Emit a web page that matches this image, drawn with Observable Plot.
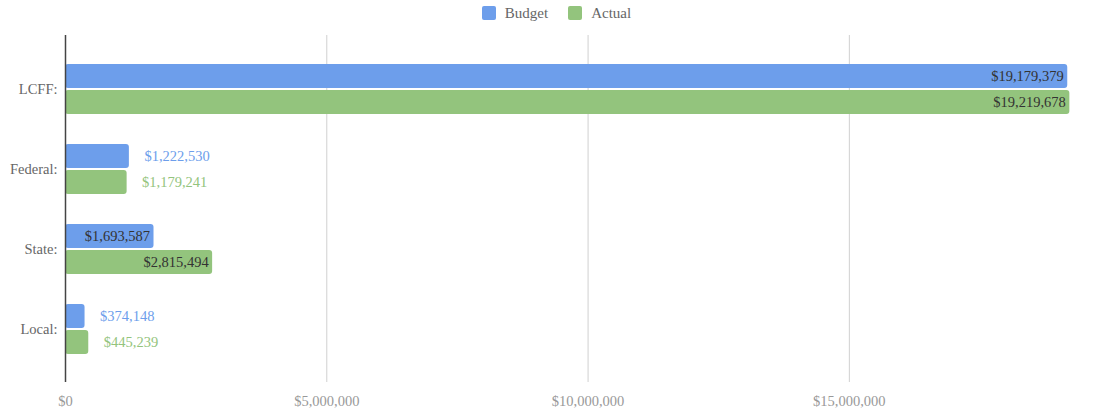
<!DOCTYPE html>
<html>
<head>
<meta charset="utf-8">
<script src="https://cdn.jsdelivr.net/npm/d3@7"></script>
<script src="https://cdn.jsdelivr.net/npm/@observablehq/plot@0.6"></script>
<style>
  html, body { margin: 0; padding: 0; background: #fff; }
  #legend { height: 26px; display: flex; justify-content: center; align-items: center;
    font-family: "Liberation Serif", "DejaVu Serif", serif; font-size: 15px; color: #666; padding-left: 14px; box-sizing: border-box; }
  #legend span.sw { display: inline-block; width: 14px; height: 14px; border-radius: 2px; margin-right: 9px; }
  #legend .item { display: flex; align-items: center; margin: 0 10px; }
  g[aria-label="x-axis"] text, g[aria-label="x-axis tick label"] text { fill: #999; }
</style>
</head>
<body>
<div id="legend"></div>
<div id="chart"></div>
<script>
const categories = ["LCFF:", "Federal:", "State:", "Local:"];
const series = ["Budget", "Actual"];
const budget = [19179379, 1222530, 1693587, 374148];
const actual = [19219678, 1179241, 2815494, 445239];
const xTicks = [0, 5000000, 10000000, 15000000];
const colors = ["#6d9eeb", "#93c47d"];

const fmt = d3.format("$,");
const data = categories.flatMap((c, i) => [
  {category: c, series: "Budget", value: budget[i]},
  {category: c, series: "Actual", value: actual[i]}
]);
const colorOf = s => colors[series.indexOf(s)];
const inside = d => d.value > 1500000;
const B = data.filter(d => d.series === "Budget");
const A = data.filter(d => d.series === "Actual");

// legend
const legend = document.getElementById("legend");
series.forEach((s, i) => {
  const it = document.createElement("div");
  it.className = "item";
  it.innerHTML = `<span class="sw" style="background:${colors[i]}"></span><span>${s}</span>`;
  legend.appendChild(it);
});

const chart = Plot.plot({
  width: 1099,
  height: 383,
  marginLeft: 65,
  marginRight: 15,
  marginTop: 9,
  marginBottom: 27,
  style: {fontFamily: "Liberation Serif, DejaVu Serif, serif", fontSize: "14.5px", color: "#666", background: "#fff"},
  x: {domain: [0, 19500000], ticks: xTicks, tickFormat: fmt, tickSize: 0, tickPadding: 13, label: null},
  y: {domain: categories, paddingInner: 0.377, paddingOuter: 0.336, tickSize: 0, tickPadding: 8, label: null},
  marks: [
    Plot.ruleX(xTicks.slice(1), {stroke: "#d0d0d0", strokeWidth: 1}),
    Plot.barX(B, {x: "value", y: "category", fill: colorOf(series[0]), insetBottom: 26, rx: 3}),
    Plot.barX(A, {x: "value", y: "category", fill: colorOf(series[1]), insetTop: 26, rx: 3}),
    Plot.ruleX([0], {stroke: "#444", strokeWidth: 1.5}),
    Plot.text(B.filter(inside), {x: "value", y: "category", text: d => fmt(d.value), dy: -13, dx: -4, textAnchor: "end", fill: "#333", fontSize: 14.5}),
    Plot.text(A.filter(inside), {x: "value", y: "category", text: d => fmt(d.value), dy: 13, dx: -4, textAnchor: "end", fill: "#333", fontSize: 14.5}),
    Plot.text(B.filter(d => !inside(d)), {x: "value", y: "category", text: d => fmt(d.value), dy: -13, dx: 15, textAnchor: "start", fill: colors[0], fontSize: 14.5}),
    Plot.text(A.filter(d => !inside(d)), {x: "value", y: "category", text: d => fmt(d.value), dy: 13, dx: 15, textAnchor: "start", fill: colors[1], fontSize: 14.5})
  ]
});
document.getElementById("chart").appendChild(chart);
</script>
</body>
</html>
